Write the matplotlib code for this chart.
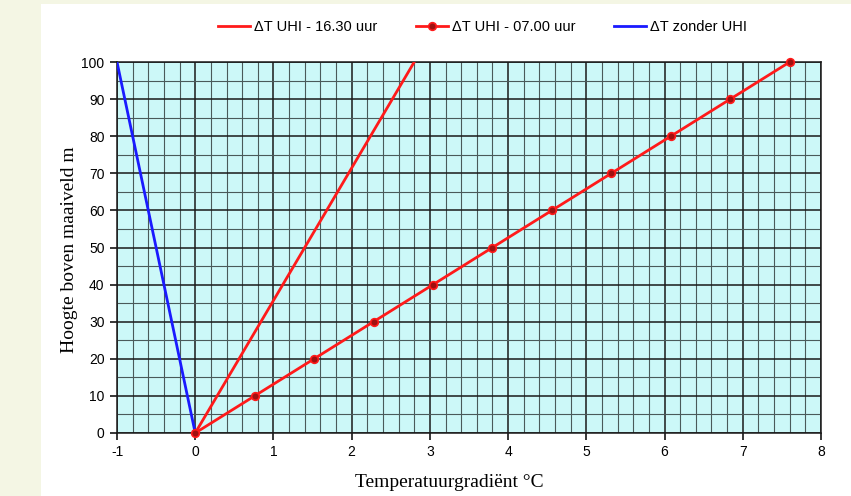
import matplotlib.pyplot as plt
import matplotlib.patches as patches
from matplotlib.ticker import MultipleLocator

plt.rcParams['axes.unicode_minus'] = False

# data
hoogte = [0, 10, 20, 30, 40, 50, 60, 70, 80, 90, 100]
dt_0700 = [0, 0.76, 1.52, 2.28, 3.04, 3.80, 4.56, 5.32, 6.08, 6.84, 7.60]
hoogte_1630 = [0, 100]
dt_1630 = [0, 2.8]
hoogte_zonder = [0, 100]
dt_zonder = [0, -1.0]

x_ticks = [-1, 0, 1, 2, 3, 4, 5, 6, 7, 8]
y_ticks = [0, 10, 20, 30, 40, 50, 60, 70, 80, 90, 100]


def draw_chart():
    fig = plt.figure(figsize=(8.51, 4.96), dpi=100)
    fig.patch.set_facecolor('#F4F6E4')
    # white panel behind the chart
    fig.patches.append(patches.Rectangle((41 / 851, 0), 1, 492 / 496,
                                         transform=fig.transFigure,
                                         facecolor='white', edgecolor='none', zorder=-5))

    ax = fig.add_axes([117 / 851, 1 - 433 / 496, 704 / 851, 371 / 496])
    ax.set_zorder(2)
    ax.set_facecolor('#CCF8F8')
    ax.set_xlim(-1, 8)
    ax.set_ylim(0, 100)

    ax.set_xticks(x_ticks)
    ax.set_yticks(y_ticks)
    ax.xaxis.set_minor_locator(MultipleLocator(0.2))
    ax.yaxis.set_minor_locator(MultipleLocator(5))
    ax.grid(which='major', color='#1a1a1a', linewidth=1.1)
    ax.grid(which='minor', color='#4a5a5a', linewidth=0.8)
    ax.set_axisbelow(True)

    ax.tick_params(which='major', direction='out', length=5, width=1.1,
                   labelsize=10, pad=4)
    ax.tick_params(which='minor', length=0)
    for lab in ax.get_xticklabels() + ax.get_yticklabels():
        lab.set_family('Liberation Sans')
    for s in ax.spines.values():
        s.set_color('#1a1a1a')
        s.set_linewidth(1.1)

    ax.plot(dt_1630, hoogte_1630, color='#FF1A1A', linewidth=2,
            label='ΔT UHI - 16.30 uur', zorder=3)
    ax.plot(dt_0700, hoogte, color='#FF1A1A', linewidth=2,
            marker='o', markersize=5.5, markerfacecolor='#A01010',
            markeredgecolor='#FF1A1A', markeredgewidth=1.2,
            label='ΔT UHI - 07.00 uur', zorder=5, clip_on=False)
    ax.plot(dt_zonder, hoogte_zonder, color='#1A1AFF', linewidth=2,
            label='ΔT zonder UHI', zorder=3)

    ax.set_xlabel('Temperatuurgradiënt °C', family='Liberation Serif', fontsize=14)
    ax.set_ylabel('Hoogte boven maaiveld m', family='Liberation Serif', fontsize=14)
    ax.xaxis.set_label_coords((449 - 117) / 704, -0.11)
    ax.yaxis.set_label_coords(-0.056, 0.493)

    fig.legend(loc='center', bbox_to_anchor=(0.567, 0.945), ncol=3, frameon=False,
               prop={'family': 'Liberation Sans', 'size': 10.5},
               handlelength=2.2, columnspacing=2.6, handletextpad=0.3)

    fig.savefig('out.png', dpi=100, facecolor=fig.get_facecolor())


if __name__ == "__main__":
    draw_chart()
